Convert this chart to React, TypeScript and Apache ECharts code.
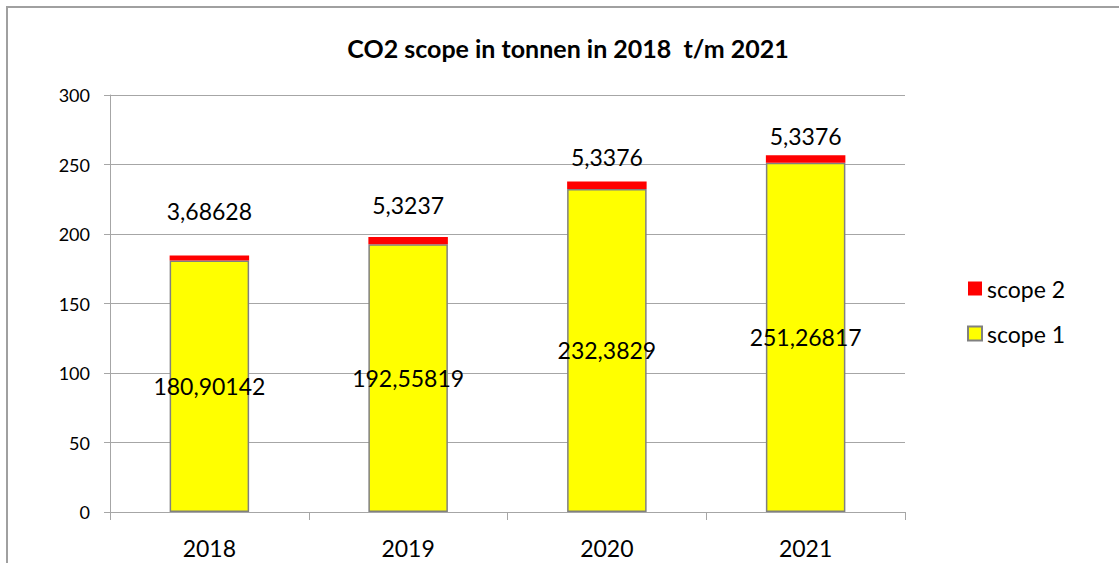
import React, { useEffect, useRef } from "react";
import * as echarts from "echarts";

const years = ["2018", "2019", "2020", "2021"];
const scope1 = [180.90142, 192.55819, 232.3829, 251.26817];
const scope2 = [3.68628, 5.3237, 5.3376, 5.3376];
const scope2LabelGap = [33, 20, 13, 8];

const fmt = (v: number) => String(v).replace(".", ",");
const FONT = "Lato";

export default function App() {
  const ref = useRef<HTMLDivElement>(null);
  useEffect(() => {
    if (!ref.current) return;
    const chart = echarts.init(ref.current, undefined, { renderer: "svg" });
    const grid = "#a6a6a6";
    chart.setOption({
      animation: false,
      backgroundColor: "#ffffff",
      title: {
        text: "CO2 scope in tonnen in 2018  t/m 2021",
        left: 563,
        textAlign: "center",
        top: 30,
        textStyle: { fontFamily: FONT, fontWeight: "bold", fontSize: 25, color: "#000" },
      },
      graphic: [
        {
          type: "rect",
          shape: { x: 7, y: 7, width: 1130, height: 580 },
          style: { fill: "none", stroke: "#a0a0a0", lineWidth: 2 },
          silent: true,
        },
      ],
      legend: {
        orient: "vertical",
        left: 962,
        top: 272,
        itemGap: 22,
        itemWidth: 14,
        itemHeight: 14,
        icon: "rect",
        data: ["scope 2", "scope 1"],
        textStyle: { fontFamily: FONT, fontSize: 23, color: "#000", lineHeight: 23 },
      },
      grid: { left: 110, right: 214, top: 95, bottom: 51 },
      xAxis: {
        type: "category",
        data: years,
        axisLine: { lineStyle: { color: grid } },
        axisTick: { show: true, length: 8, alignWithLabel: false, lineStyle: { color: grid } },
        axisLabel: { fontFamily: FONT, fontSize: 23, color: "#000", margin: 24 },
      },
      yAxis: {
        type: "value",
        min: 0,
        max: 300,
        interval: 50,
        axisLine: { show: true, lineStyle: { color: grid } },
        axisTick: { show: true, length: 6, lineStyle: { color: grid } },
        axisLabel: { fontFamily: FONT, fontSize: 18, color: "#000", margin: 20 },
        splitLine: { lineStyle: { color: grid, width: 1 } },
      },
      series: [
        {
          name: "scope 1",
          type: "bar",
          stack: "co2",
          barWidth: "40%",
          data: scope1,
          itemStyle: { color: "#ffff00", borderColor: "#808080", borderWidth: 1.5 },
          label: {
            show: true,
            position: "inside",
            fontFamily: FONT,
            fontSize: 23,
            color: "#000",
            formatter: (p: any) => fmt(p.value),
          },
        },
        {
          name: "scope 2",
          type: "bar",
          stack: "co2",
          barWidth: "40%",
          data: scope2.map((v, i) => ({
            value: v,
            label: { distance: scope2LabelGap[i] },
          })),
          itemStyle: { color: "#ff0000" },
          label: {
            show: true,
            position: "top",
            fontFamily: FONT,
            fontSize: 23,
            color: "#000",
            formatter: (p: any) => fmt(p.value),
          },
        },
      ],
    });
    return () => chart.dispose();
  }, []);
  return (
    <div
      ref={ref}
      style={{ position: "fixed", left: 0, top: 0, width: 1119, height: 563 }}
    />
  );
}
